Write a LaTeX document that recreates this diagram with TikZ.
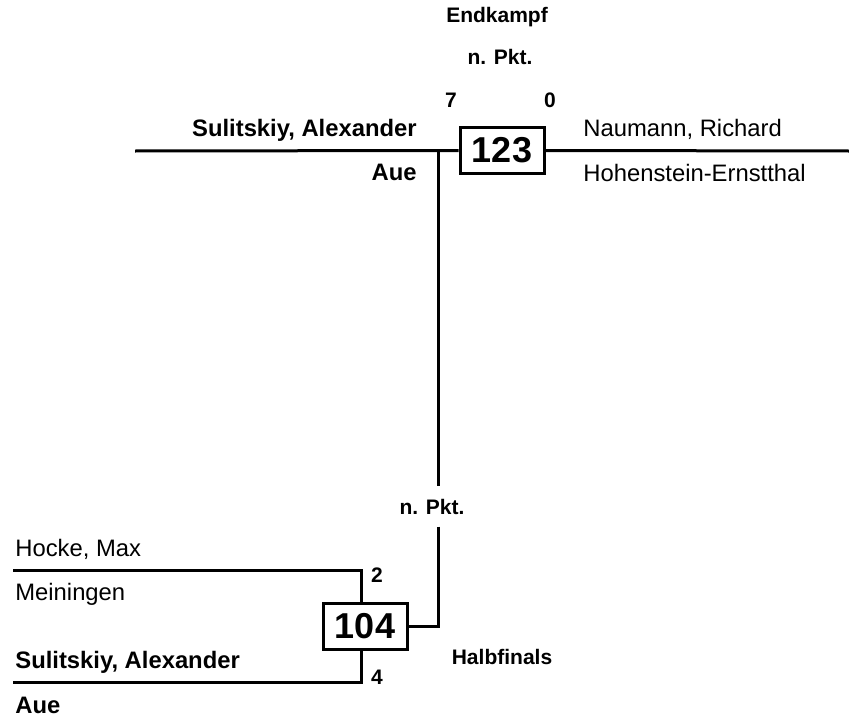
\documentclass[tikz,border=0pt]{standalone}
\usepackage{fontspec}
\setmainfont{Liberation Sans}
\begin{document}
\begin{tikzpicture}[x=0.5pt,y=-0.5pt,
  fight/.style={draw, line width=1.5pt, minimum width=42pt, minimum height=23pt, inner sep=0pt, font=\fontsize{18}{18}\selectfont\bfseries},
  winner/.style={inner sep=0pt, font=\fontsize{11.9}{12}\selectfont\bfseries},
  loser/.style={inner sep=0pt, font=\fontsize{11.9}{12}\selectfont},
  tag/.style={inner sep=0pt, font=\fontsize{10.5}{11}\selectfont\bfseries},
  gap/.style={tag, inner ysep=6pt},
  wire/.style={line width=1.5pt}]
\useasboundingbox (0,0) rectangle (849,722);
\node[fight] (f123) at (502,150.5) {123};
\node[fight] (f104) at (365,626.5) {104};
\node[tag, anchor=base] (roundA) at (497,23) {Endkampf};
\node[tag, anchor=base] (ptsA) at (500,65) {n. Pkt.};
\node[tag, anchor=base] (scoreA) at (451,107) {7};
\node[tag, anchor=base] (scoreB) at (550,107) {0};
\node[winner, anchor=base east] (nameA) at (417,136) {Sulitskiy, Alexander};
\node[winner, anchor=base east] (clubA) at (417,180) {Aue};
\node[loser, anchor=base west] (nameB) at (583,136) {Naumann, Richard};
\node[loser, anchor=base west] (clubB) at (583,181) {Hohenstein-Ernstthal};
\node[gap, anchor=base] (ptsB) at (432,514) {n. Pkt.};
\node[loser, anchor=base west] (nameC) at (15,556) {Hocke, Max};
\node[loser, anchor=base west] (clubC) at (15,600) {Meiningen};
\node[winner, anchor=base west] (nameD) at (15,668) {Sulitskiy, Alexander};
\node[winner, anchor=base west] (clubD) at (15,713) {Aue};
\node[tag, anchor=base] (scoreC) at (377,582) {2};
\node[tag, anchor=base] (scoreD) at (377,684) {4};
\node[tag, anchor=base] (roundB) at (502,664) {Halbfinals};
\coordinate (inA) at (135,151);
\coordinate (inB) at (849,151);
\coordinate (fork) at (438,151);
\coordinate (inC) at (13,570);
\coordinate (inD) at (13,682);
\draw[wire] (inA) -- (f123.west);
\draw[wire] (f123.east) -- (inB);
\draw[wire] (fork) -- (fork |- ptsB.north);
\draw[wire] (fork |- ptsB.south) |- (f104.east);
\draw[wire] (inC) -| ([xshift=-2pt]f104.north);
\draw[wire] (inD) -| ([xshift=-2pt]f104.south);
\end{tikzpicture}
\end{document}
